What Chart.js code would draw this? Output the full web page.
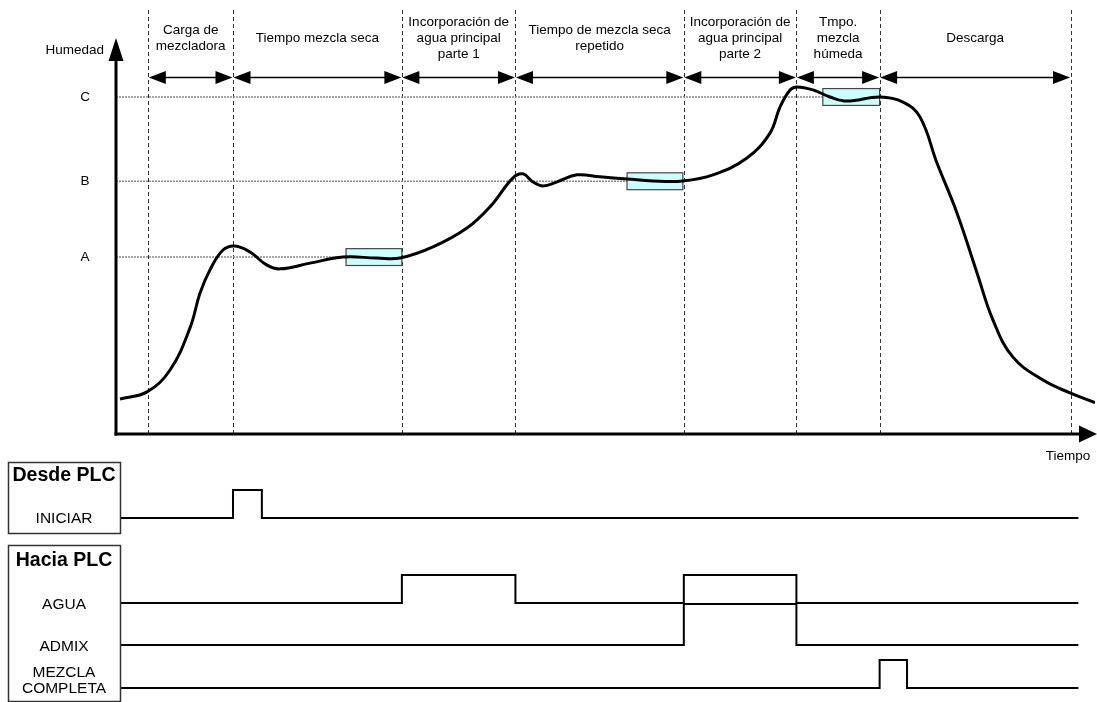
<!DOCTYPE html>
<html>
<head>
<meta charset="utf-8">
<script src="https://cdn.jsdelivr.net/npm/chart.js@4/dist/chart.umd.min.js"></script>
<style>
  html, body { margin: 0; padding: 0; background: #fff; }
  #wrap { width: 1097px; height: 702px; position: relative; }
</style>
</head>
<body>
<div id="wrap"><canvas id="chartCanvas"></canvas></div>
<script>
// time axis runs 0..100, moisture in arbitrary units (0 = x axis)
const phaseBounds = [3.3, 11.95, 29.2, 40.8, 58.0, 69.5, 78.0, 97.5];
const phaseLabels = [
  "Carga de\nmezcladora",
  "Tiempo mezcla seca",
  "Incorporación de\nagua principal\nparte 1",
  "Tiempo de mezcla seca\nrepetido",
  "Incorporación de\nagua principal\nparte 2",
  "Tmpo.\nmezcla\nhúmeda",
  "Descarga"
];

const levelNames = ["A", "B", "C"];
const levelValues = [5.25, 7.5, 10];
const stableWindows = [[23.5, 29.2], [52.2, 57.9], [72.2, 78.0]];

const curveTime = [0.41, 3.17, 5.52, 7.56, 8.58, 9.6, 10.93, 12.16, 13.69, 15.42, 16.75, 19.82, 23.19, 26.66, 29.01,
  32.38, 35.85, 38.2, 40.55, 41.57, 42.59, 43.62, 45.05, 47.09, 49.44, 52.2, 54.85, 57.92,
  60.98, 64.45, 66.8, 67.82, 68.85, 69.56, 71.2, 72.93, 74.67, 78.04,
  80.39, 82.12, 83.86, 85.9, 87.95, 89.58, 91.62, 94.69, 97.45, 100];
const curveMoisture = [1.04, 1.25, 1.9, 3.15, 4.18, 4.87, 5.46, 5.58, 5.4, 5.01, 4.9, 5.07, 5.25, 5.22, 5.22,
  5.55, 6.11, 6.74, 7.6, 7.72, 7.48, 7.36, 7.48, 7.69, 7.63, 7.57, 7.51, 7.51,
  7.69, 8.19, 8.93, 9.7, 10.21, 10.3, 10.21, 10.0, 9.88, 10.0,
  9.85, 9.41, 8.04, 6.56, 4.78, 3.38, 2.28, 1.6, 1.22, 0.93];

const signalNames = ["INICIAR", "AGUA", "ADMIX", "MEZCLA\nCOMPLETA"];
const signalPulses = [
  [[11.95, 14.9]],
  [[29.2, 40.8], [58.0, 69.5]],
  [[58.0, 69.5]],
  [[78.0, 80.8]]
];
const signalStart = 0.41;
const signalEnd = 98.3;

// layout
const W = 1097, H = 702;
const AXIS_PX = 434, PX_PER_UNIT = 33.7;
const laneBasePx = [518, 603, 645, 688];
const laneHighPx = [490, 575, 604, 660];
const FONT = '"Liberation Sans", Arial, sans-serif';

function laneScale(basePx, highPx) {
  const u = basePx - highPx;
  const min = -(H - basePx) / u;
  return { type: "linear", display: false, min: min, max: min + H / u };
}

const scales = {
  x: { type: "linear", display: false, min: 0, max: 100 },
  y: { type: "linear", display: false, min: -(H - AXIS_PX) / PX_PER_UNIT, max: AXIS_PX / PX_PER_UNIT }
};

const datasets = [{
  label: "Humedad",
  data: curveTime.map((t, i) => ({ x: t, y: curveMoisture[i] })),
  borderColor: "#000",
  borderWidth: 3,
  pointRadius: 0,
  tension: 0.4,
  xAxisID: "x",
  yAxisID: "y"
}];

signalNames.forEach((name, i) => {
  const id = "lane" + i;
  scales[id] = laneScale(laneBasePx[i], laneHighPx[i]);
  const pts = [{ x: signalStart, y: 0 }];
  signalPulses[i].forEach(p => {
    pts.push({ x: p[0], y: 1 });
    pts.push({ x: p[1], y: 0 });
  });
  pts.push({ x: signalEnd, y: 0 });
  datasets.push({
    label: name,
    data: pts,
    stepped: "before",
    borderColor: "#000",
    borderWidth: 2,
    pointRadius: 0,
    xAxisID: "x",
    yAxisID: id
  });
});

function drawText(ctx, text, x, y, font, align) {
  ctx.font = font;
  ctx.textAlign = align || "center";
  ctx.textBaseline = "middle";
  ctx.fillStyle = "#000";
  const lines = text.split("\n");
  const lh = 16;
  const y0 = y - (lines.length - 1) * lh / 2;
  lines.forEach((l, k) => ctx.fillText(l, x, y0 + k * lh));
}

function arrowHead(ctx, tipX, tipY, dir, len, half) {
  ctx.beginPath();
  ctx.moveTo(tipX, tipY);
  ctx.lineTo(tipX - dir * len, tipY - half);
  ctx.lineTo(tipX - dir * len, tipY + half);
  ctx.closePath();
  ctx.fill();
}

const diagram = {
  id: "diagram",
  beforeDatasetsDraw(chart) {
    const ctx = chart.ctx;
    const xs = chart.scales.x, ys = chart.scales.y;
    ctx.save();

    // dashed phase boundaries
    ctx.strokeStyle = "#333";
    ctx.lineWidth = 1;
    ctx.setLineDash([4, 3]);
    phaseBounds.forEach(t => {
      const px = Math.round(xs.getPixelForValue(t)) + 0.5;
      ctx.beginPath();
      ctx.moveTo(px, 10);
      ctx.lineTo(px, AXIS_PX);
      ctx.stroke();
    });

    // reference levels
    ctx.strokeStyle = "#8a8a8a";
    ctx.lineWidth = 1.5;
    ctx.setLineDash([2, 1]);
    levelValues.forEach((v, i) => {
      const py = ys.getPixelForValue(v);
      ctx.beginPath();
      ctx.moveTo(xs.getPixelForValue(0), py);
      ctx.lineTo(xs.getPixelForValue(stableWindows[i][0]), py);
      ctx.stroke();
    });
    ctx.setLineDash([]);

    // stable windows
    levelValues.forEach((v, i) => {
      const x0 = xs.getPixelForValue(stableWindows[i][0]);
      const x1 = xs.getPixelForValue(stableWindows[i][1]);
      const yTop = ys.getPixelForValue(v + 0.25);
      const yBot = ys.getPixelForValue(v - 0.25);
      ctx.fillStyle = "#ccffff";
      ctx.fillRect(x0, yTop, x1 - x0, yBot - yTop);
      ctx.strokeStyle = "#444";
      ctx.lineWidth = 1.2;
      ctx.strokeRect(x0, yTop, x1 - x0, yBot - yTop);
    });

    ctx.restore();
  },
  afterDatasetsDraw(chart) {
    const ctx = chart.ctx;
    const xs = chart.scales.x, ys = chart.scales.y;
    ctx.save();
    ctx.fillStyle = "#000";
    ctx.strokeStyle = "#000";

    // axes
    const ox = xs.getPixelForValue(0);
    ctx.lineWidth = 3;
    ctx.beginPath();
    ctx.moveTo(ox, AXIS_PX + 1.5);
    ctx.lineTo(ox, 58);
    ctx.stroke();
    ctx.beginPath();
    ctx.moveTo(ox - 1.5, AXIS_PX);
    ctx.lineTo(1082, AXIS_PX);
    ctx.stroke();
    // y arrow
    ctx.beginPath();
    ctx.moveTo(ox, 38);
    ctx.lineTo(ox - 7.5, 61);
    ctx.lineTo(ox + 7.5, 61);
    ctx.closePath();
    ctx.fill();
    // x arrow
    arrowHead(ctx, 1097, AXIS_PX, 1, 18, 8.5);

    drawText(ctx, "Humedad", 104, 50, "13.5px " + FONT, "right");
    drawText(ctx, "Tiempo", 1068, 456, "13.5px " + FONT);
    levelValues.forEach((v, i) => {
      drawText(ctx, levelNames[i], 85, ys.getPixelForValue(v), "13.5px " + FONT);
    });

    // phase arrows and labels
    const arrowY = 77.5;
    ctx.lineWidth = 1.5;
    for (let i = 0; i < phaseLabels.length; i++) {
      const a = xs.getPixelForValue(phaseBounds[i]);
      const b = xs.getPixelForValue(phaseBounds[i + 1]);
      ctx.beginPath();
      ctx.moveTo(a + 4, arrowY);
      ctx.lineTo(b - 4, arrowY);
      ctx.stroke();
      arrowHead(ctx, a + 0.5, arrowY, -1, 17, 6.5);
      arrowHead(ctx, b - 0.5, arrowY, 1, 17, 6.5);
      drawText(ctx, phaseLabels[i], (a + b) / 2, 38, "13.5px " + FONT);
    }

    // PLC boxes
    ctx.strokeStyle = "#333";
    ctx.lineWidth = 1.5;
    ctx.strokeRect(8.5, 462.5, 112, 71);
    ctx.strokeRect(8.5, 545.5, 112, 156);
    drawText(ctx, "Desde PLC", 64, 476, "bold 19.5px " + FONT);
    drawText(ctx, "Hacia PLC", 64, 561, "bold 19.5px " + FONT);
    const labelY = [519, 605, 647, 681];
    signalNames.forEach((n, i) => {
      drawText(ctx, n, 64, labelY[i], "15.5px " + FONT);
    });

    ctx.restore();
  }
};

Chart.defaults.font.family = FONT;
const chart = new Chart(document.getElementById("chartCanvas").getContext("2d"), {
  type: "line",
  data: { datasets: datasets },
  options: {
    responsive: true,
    maintainAspectRatio: false,
    animation: false,
    devicePixelRatio: 1,
    layout: { padding: { left: 116, right: 2, top: 0, bottom: 0 } },
    scales: scales,
    plugins: { legend: { display: false }, tooltip: { enabled: false } }
  },
  plugins: [diagram]
});
</script>
</body>
</html>
